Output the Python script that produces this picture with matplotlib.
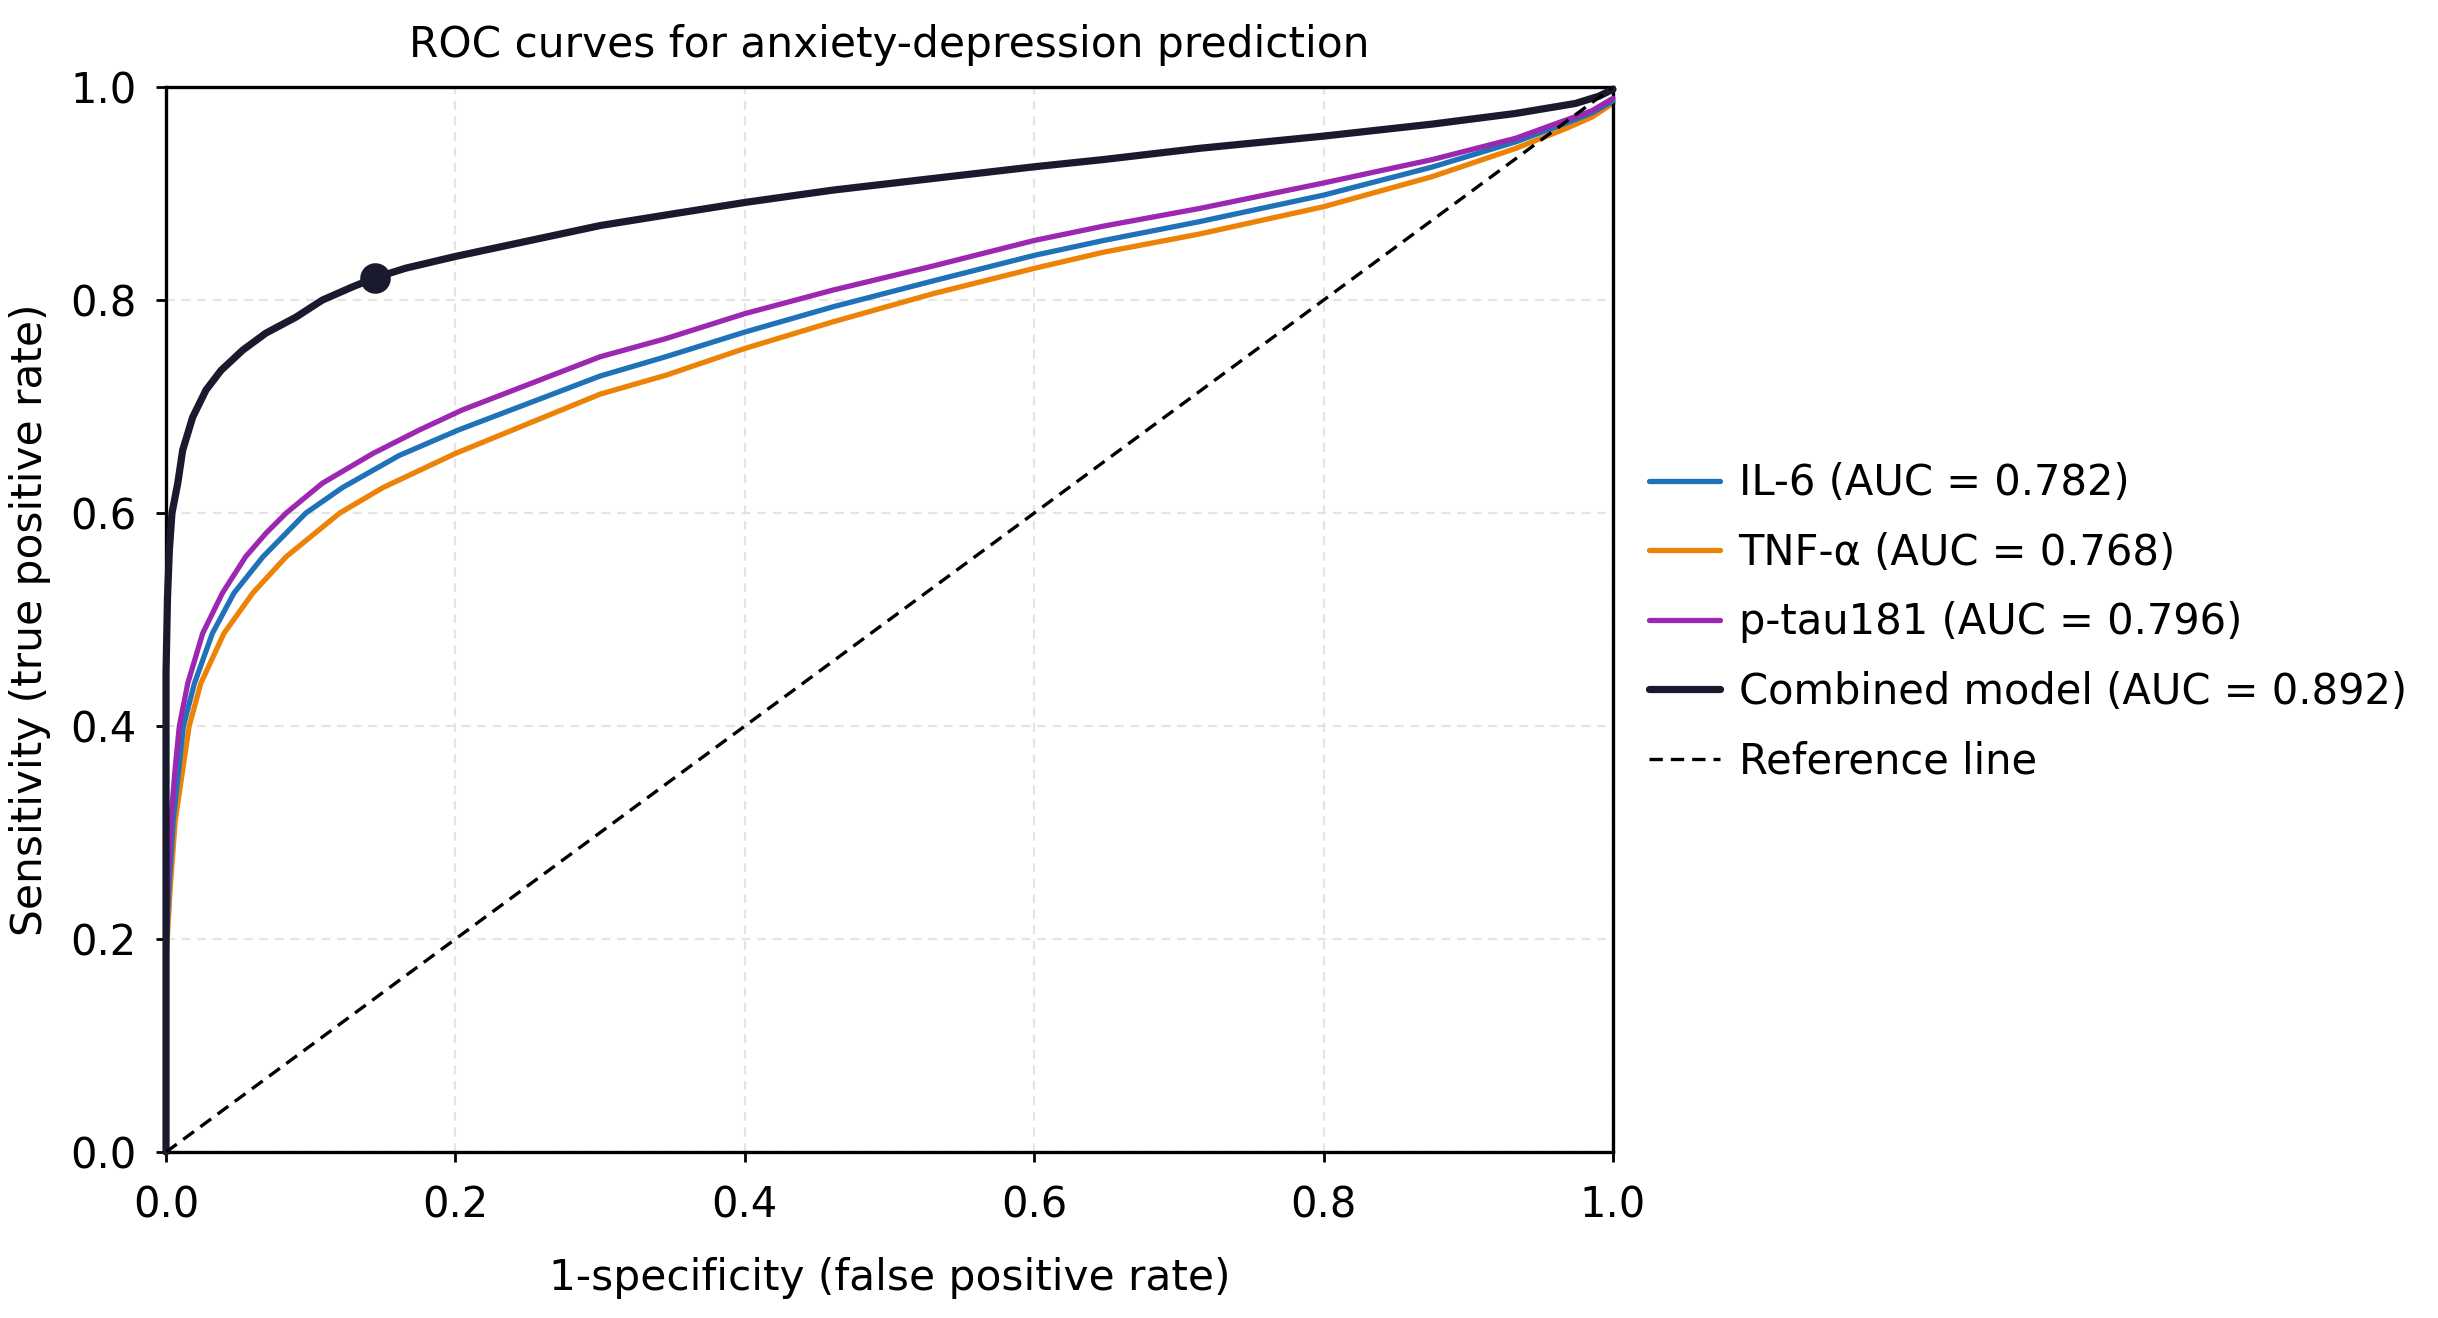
import matplotlib
matplotlib.use('Agg')
import matplotlib.pyplot as plt

# ROC points
fpr_il6 = [0, 0.0, 0.002, 0.005, 0.012, 0.0196, 0.032, 0.047, 0.067, 0.0966, 0.122, 0.161, 0.202,
           0.3, 0.3458, 0.4, 0.4609, 0.53, 0.6, 0.648, 0.714, 0.8, 0.8752, 0.9328, 0.9673, 0.9857, 1.0]
tpr_il6 = [0, 0.19, 0.25, 0.312, 0.40, 0.44, 0.487, 0.525, 0.559, 0.60, 0.624, 0.654, 0.678,
           0.7287, 0.747, 0.770, 0.7937, 0.818, 0.842, 0.856, 0.8736, 0.8986, 0.925, 0.9486, 0.966, 0.976, 0.987]

fpr_tnf = [0, 0.0, 0.003, 0.0064, 0.016, 0.024, 0.040, 0.060, 0.083, 0.120, 0.150, 0.2,
           0.3, 0.3458, 0.4, 0.4609, 0.53, 0.6, 0.648, 0.714, 0.8, 0.8752, 0.9328, 0.9673, 0.9857, 1.0]
tpr_tnf = [0, 0.18, 0.25, 0.312, 0.40, 0.44, 0.487, 0.525, 0.559, 0.60, 0.624, 0.656,
           0.7117, 0.7296, 0.7546, 0.7796, 0.806, 0.8298, 0.845, 0.862, 0.8877, 0.916, 0.9425, 0.961, 0.972, 0.985]

fpr_tau = [0, 0.0, 0.0015, 0.0034, 0.0064, 0.0092, 0.015, 0.0253, 0.039, 0.055, 0.069, 0.083,
           0.108, 0.143, 0.175, 0.205, 0.3, 0.3458, 0.4, 0.4609, 0.53, 0.6, 0.648, 0.714, 0.8,
           0.8752, 0.9328, 0.9673, 0.9857, 1.0]
tpr_tau = [0, 0.20, 0.26, 0.312, 0.3615, 0.40, 0.44, 0.487, 0.525, 0.559, 0.581, 0.60,
           0.628, 0.656, 0.678, 0.697, 0.7468, 0.764, 0.7873, 0.8094, 0.832, 0.856, 0.8695, 0.886, 0.910,
           0.932, 0.952, 0.969, 0.978, 0.9895]

fpr_comb = [0, 0.0, 0.001, 0.0023, 0.0041, 0.0081, 0.0115, 0.0184, 0.0276, 0.038, 0.053, 0.069,
            0.0898, 0.108, 0.129, 0.1446, 0.1657, 0.2, 0.3, 0.3458, 0.4, 0.4609, 0.53, 0.6, 0.648,
            0.714, 0.8, 0.8752, 0.9328, 0.9742, 0.9903, 1.0]
tpr_comb = [0, 0.45, 0.52, 0.565, 0.60, 0.628, 0.659, 0.690, 0.7155, 0.734, 0.753, 0.769,
            0.784, 0.80, 0.8125, 0.821, 0.830, 0.841, 0.870, 0.880, 0.8917, 0.9033, 0.9142, 0.9252, 0.932,
            0.9425, 0.954, 0.9653, 0.9753, 0.9847, 0.9915, 0.998]

cut_fpr = [0.1446]
cut_tpr = [0.821]

labels = ['IL-6 (AUC = 0.782)', 'TNF-\u03b1 (AUC = 0.768)', 'p-tau181 (AUC = 0.796)',
          'Combined model (AUC = 0.892)', 'Reference line']
ticks = [0.0, 0.2, 0.4, 0.6, 0.8, 1.0]

plt.rcParams['font.family'] = ['DejaVu Sans']

fig = plt.figure(figsize=(12.19, 6.59), dpi=200)
ax = fig.add_axes([0.0681, 0.1259, 0.5935, 0.808])

ax.grid(True, color='#e4e4e4', linestyle=(0, (4, 3)), linewidth=0.8, zorder=0)
ax.set_axisbelow(True)

kw = dict(clip_on=False, solid_joinstyle='round', solid_capstyle='round')
ax.plot(fpr_il6, tpr_il6, color='#1f72b8', lw=1.9, label=labels[0], zorder=3, **kw)
ax.plot(fpr_tnf, tpr_tnf, color='#ec8206', lw=1.9, label=labels[1], zorder=2, **kw)
ax.plot(fpr_tau, tpr_tau, color='#9c27b0', lw=1.9, label=labels[2], zorder=4, **kw)
ax.plot(fpr_comb, tpr_comb, color='#1a1a2e', lw=2.6, label=labels[3], zorder=5, **kw)
ax.plot(cut_fpr, cut_tpr, 'o', color='#1a1a2e', ms=10, zorder=6)
ax.plot([0, 1], [0, 1], color='black', lw=1.2, linestyle=(0, (4, 2.4)), label=labels[4], zorder=7)

ax.set_xlim(0, 1)
ax.set_ylim(0, 1)
ax.set_xticks(ticks)
ax.set_yticks(ticks)
ax.set_xticklabels(['%.1f' % t for t in ticks])
ax.set_yticklabels(['%.1f' % t for t in ticks])
ax.tick_params(axis='x', labelsize=15, length=3.5, width=1, pad=8)
ax.tick_params(axis='y', labelsize=15, length=3.5, width=1, pad=7)
for s in ax.spines.values():
    s.set_linewidth(1.2)
    s.set_color('black')

ax.set_title('ROC curves for anxiety-depression prediction', fontsize=15.2, pad=11)
ax.set_xlabel('1-specificity (false positive rate)', fontsize=15.2, labelpad=11)
ax.set_ylabel('Sensitivity (true positive rate)', fontsize=15.2, labelpad=7)

ax.legend(loc='center left', bbox_to_anchor=(0.661, 0.528), bbox_transform=fig.transFigure,
          frameon=False, fontsize=15, handlelength=1.7, handletextpad=0.45, labelspacing=0.66)

fig.savefig('out.png', dpi=200)
